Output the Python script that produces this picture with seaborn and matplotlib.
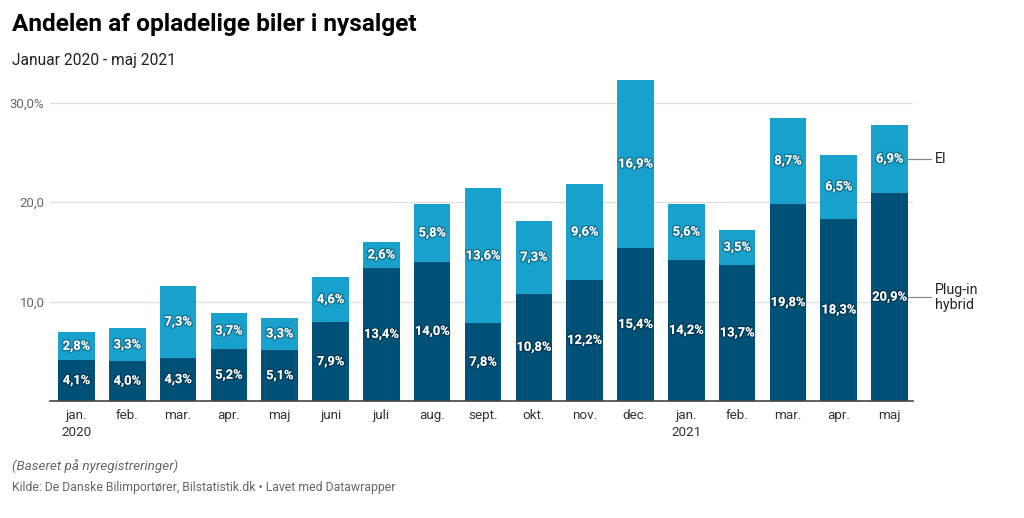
import matplotlib
matplotlib.use("Agg")
import matplotlib.pyplot as plt
import matplotlib.patheffects as pe
import seaborn as sns
import pandas as pd

months = ["jan.\n2020", "feb.", "mar.", "apr.", "maj", "juni", "juli", "aug.", "sept.",
          "okt.", "nov.", "dec.", "jan.\n2021", "feb.", "mar.", "apr.", "maj"]
plugin_hybrid = [4.1, 4.0, 4.3, 5.2, 5.1, 7.9, 13.4, 14.0, 7.8, 10.8, 12.2, 15.4, 14.2, 13.7, 19.8, 18.3, 20.9]
el = [2.8, 3.3, 7.3, 3.7, 3.3, 4.6, 2.6, 5.8, 13.6, 7.3, 9.6, 16.9, 5.6, 3.5, 8.7, 6.5, 6.9]
y_ticks = [10, 20, 30]
y_tick_labels = ["10,0", "20,0", "30,0%"]

DARK = "#005178"
LIGHT = "#19a1cd"

sns.set_theme(style="white")
plt.rcParams["font.family"] = ["Roboto", "DejaVu Sans"]

df = pd.DataFrame({
    "idx": list(range(len(months))),
    "phev": plugin_hybrid,
    "el": el,
})
df["total"] = df["phev"] + df["el"]

fig = plt.figure(figsize=(10.24, 5.18), dpi=100)
ax = fig.add_axes([50 / 1024, 1 - 401 / 518, (913 - 50) / 1024, (401 - 78) / 518])

W = 0.72
sns.barplot(data=df, x="idx", y="total", color=LIGHT, width=W, ax=ax,
            saturation=1, zorder=3, linewidth=0)
sns.barplot(data=df, x="idx", y="phev", color=DARK, width=W, ax=ax,
            saturation=1, zorder=4, linewidth=0)

ax.set_ylim(0, 32.5)
ax.set_xlim(-0.52, len(months) - 1 + 0.46)
ax.set_yticks(y_ticks)
ax.set_yticklabels(y_tick_labels, fontsize=9.5, color="#666666")
ax.set_xticks(range(len(months)))
ax.set_xticklabels(months, fontsize=9.7, color="#333333", linespacing=1.35)
ax.tick_params(axis="both", length=0, pad=6)
ax.tick_params(axis="y", pad=4)
ax.set_xlabel("")
ax.set_ylabel("")
ax.grid(axis="y", color="#dddddd", linewidth=0.9, zorder=0)
for s in ["top", "right", "left"]:
    ax.spines[s].set_visible(False)
ax.spines["bottom"].set_color("#444444")
ax.spines["bottom"].set_linewidth(1.2)
ax.spines["bottom"].set_zorder(6)

shadow = [pe.withStroke(linewidth=2, foreground=(0, 0, 0, 0.28))]
for i, (p, e) in enumerate(zip(plugin_hybrid, el)):
    ax.text(i, p / 2, f"{p:.1f}%".replace(".", ","), ha="center", va="center",
            color="white", fontsize=9.3, fontweight="bold", zorder=7, path_effects=shadow)
    ax.text(i, p + e / 2, f"{e:.1f}%".replace(".", ","), ha="center", va="center",
            color="white", fontsize=9.3, fontweight="bold", zorder=7, path_effects=shadow)

# right-side series labels
last = len(months) - 1
x0 = last + W / 2
x1 = x0 + 23 / 50.8
xt = x0 + 27 / 50.8
y_el = plugin_hybrid[-1] + el[-1] / 2
y_ph = plugin_hybrid[-1] / 2
for yy in (y_el, y_ph):
    ax.plot([x0, x1], [yy, yy], color="#888888", linewidth=0.9, clip_on=False, zorder=5)
ax.text(xt, y_el, "El", ha="left", va="center", fontsize=10.3, color="#222222", clip_on=False)
ax.text(xt, y_ph, "Plug-in\nhybrid", ha="left", va="center", fontsize=10.3,
        color="#222222", clip_on=False, linespacing=1.1)

fig.text(12 / 1024, 1 - 25 / 518, "Andelen af opladelige biler i nysalget", fontsize=17.6,
         fontweight="bold", color="#000000", ha="left", va="center")
fig.text(12 / 1024, 1 - 60 / 518, "Januar 2020 - maj 2021", fontsize=11.2,
         color="#222222", ha="left", va="center")
fig.text(12 / 1024, 1 - 466 / 518, "(Baseret på nyregistreringer)", fontsize=9.7,
         fontstyle="italic", color="#666666", ha="left", va="center")
fig.text(12 / 1024, 1 - 488 / 518,
         "Kilde: De Danske Bilimportører, Bilstatistik.dk • Lavet med Datawrapper",
         fontsize=8.8, color="#666666", ha="left", va="center")

fig.savefig("out.png", dpi=100)
